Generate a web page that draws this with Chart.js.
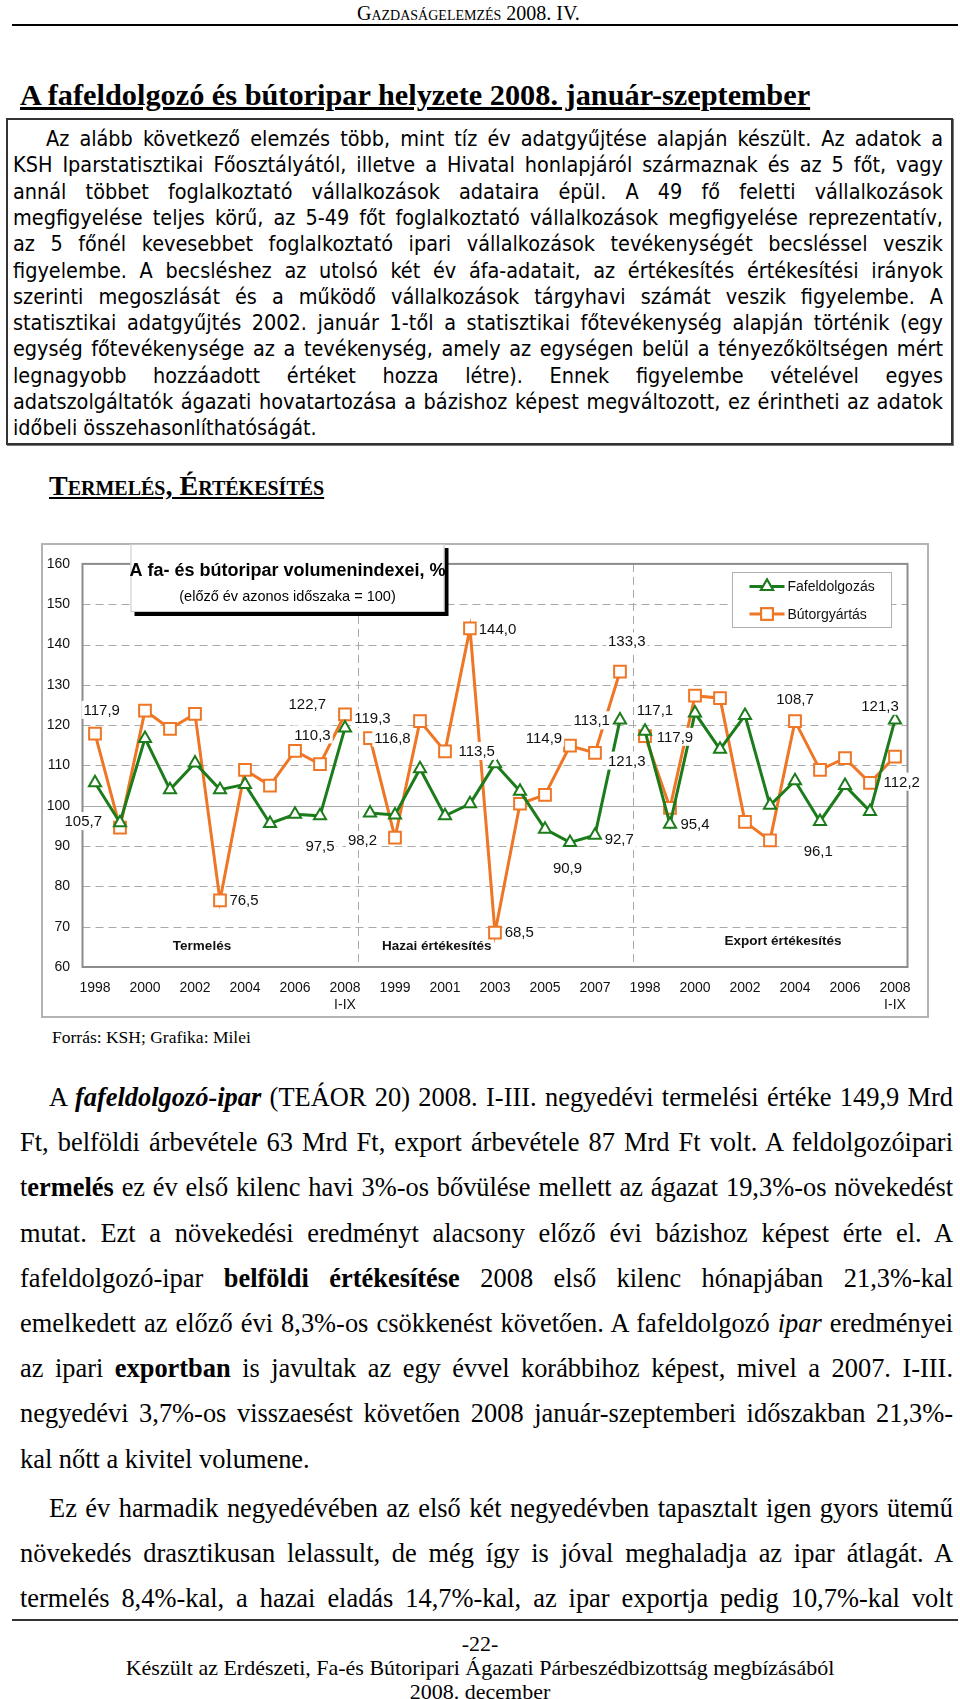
<!DOCTYPE html>
<html><head><meta charset="utf-8">
<script src="https://cdn.jsdelivr.net/npm/chart.js@4.4.0/dist/chart.umd.min.js"></script>
<style>
html,body{margin:0;padding:0;background:#fff;}
body{width:960px;height:1699px;position:relative;overflow:hidden;font-family:"Liberation Serif","Times New Roman",serif;color:#000;}
.a{position:absolute;white-space:nowrap;}
.hdr{left:357px;top:2px;font-size:20px;line-height:22px;font-variant:small-caps;}
.rule{position:absolute;left:12px;width:946px;height:2px;background:#000;}
.title{left:20px;top:78px;font-size:30.3px;line-height:34px;font-weight:bold;text-decoration:underline;}
.box{position:absolute;left:6px;top:118px;width:943px;height:323px;border:2px solid #333;box-shadow:1px 1px 0 #777;}
.bl{position:absolute;font-family:"DejaVu Sans Condensed","DejaVu Sans",sans-serif;font-stretch:condensed;font-size:17.5px;line-height:24px;white-space:nowrap;display:inline-block;}
.sec{left:49px;top:471px;font-size:28px;line-height:30px;font-weight:bold;font-variant:small-caps;text-decoration:underline;}
.src{left:52px;top:1026px;font-size:17.5px;line-height:22px;}
.tl{position:absolute;font-size:21px;line-height:28px;white-space:nowrap;display:inline-block;}
.foot{position:absolute;left:0;width:960px;text-align:center;font-size:22px;line-height:24px;}
#wrap{position:absolute;left:41px;top:543px;width:888px;height:475px;}
</style>
</head><body>
<div class="a hdr">Gazdaságelemzés 2008. IV.</div>
<div class="rule" style="top:24px"></div>
<div class="a title">A fafeldolgozó és bútoripar helyzete 2008. január-szeptember</div>
<div class="box"></div>
<div id="boxlines"></div>
<div class="a sec">Termelés, Értékesítés</div>
<div id="wrap"><canvas id="c" width="888" height="475"></canvas></div>
<div class="a src">Forrás: KSH; Grafika: Milei</div>
<div id="bodylines"></div>
<div class="rule" style="top:1619px;height:2px;background:#333"></div>
<div class="foot" style="top:1632px">-22-</div>
<div class="foot" style="top:1656px">Készült az Erdészeti, Fa-és Bútoripari Ágazati Párbeszédbizottság megbízásából</div>
<div class="foot" style="top:1680px">2008. december</div>
<script>
// ---------- chart data ----------
const categories = ['1998','1999','2000','2001','2002','2003','2004','2005','2006','2007','2008',
                    '1998','1999','2000','2001','2002','2003','2004','2005','2006','2007','2008',
                    '1998','1999','2000','2001','2002','2003','2004','2005','2006','2007','2008'];
const lastPeriodSuffix = 'I-IX';
const groupNames = ['Termelés','Hazai értékesítés','Export értékesítés'];
const groupSize = 11;
const seriesNames = ['Fafeldolgozás','Bútorgyártás'];
const fafeldolgozas = [105.7, 95.8, 116.7, 104.0, 110.6, 104.0, 105.3, 95.6, 97.9, 97.5, 119.3,
                       98.2, 97.7, 109.2, 97.5, 100.5, 110.4, 103.6, 94.2, 90.9, 92.7, 121.3,
                       118.5, 95.4, 123.0, 114.0, 122.4, 100.1, 106.2, 96.1, 105.0, 98.6, 121.3];
const butorgyartas = [117.9, 94.6, 123.6, 119.1, 122.8, 76.5, 108.9, 105.0, 113.6, 110.3, 122.7,
                      116.8, 92.1, 121.0, 113.5, 144.0, 68.5, 100.5, 102.7, 114.9, 113.1, 133.3,
                      117.3, 99.5, 127.3, 126.7, 96.0, 91.4, 121.0, 108.9, 111.8, 105.7, 112.2];
const yTicksMin = 60, yTicksMax = 160, yTickStep = 10;
// value annotations as printed on the chart, anchored in data units (category index, value)
const labelTexts = ['117,9','105,7','76,5','122,7','110,3','97,5','119,3','98,2',
                    '116,8','113,5','144,0','68,5','90,9','114,9','113,1','92,7','121,3','133,3',
                    '117,1','117,9','95,4','108,7','96,1','121,3','112,2'];
const labelAtIndex = [0.27,-0.47,5.96,8.49,8.7,9.0,11.1,10.7,
                      11.9,15.27,16.1,16.97,18.9,17.96,19.87,20.97,21.27,21.27,
                      22.4,23.2,24.0,28.0,28.93,31.4,32.27];
const labelAtValue = [123.8,96.2,76.6,125.4,117.7,90.1,121.8,91.5,
                      116.9,113.6,143.8,68.7,84.6,116.9,121.2,91.7,111.2,140.8,
                      123.8,117.1,95.4,126.5,88.8,124.8,106.0];
const groupLabelIndex = [4.28, 13.67, 27.52];
const groupLabelValue = [65.2, 65.1, 66.4];
const chartTitle = 'A fa- és bútoripar volumenindexei, %';
const chartSubtitle = '(előző év azonos időszaka = 100)';

// ---------- styles ----------
const GREEN = '#1c7c1c', ORANGE = '#ee7624', GRID = '#a9a9a9';
const SANS = '"Liberation Sans", Arial, sans-serif';

function isBreak(c){ return (c.p1DataIndex % groupSize) === 0; }

function xAt(chart, fi){
  const xs = chart.scales.x;
  const p0 = xs.getPixelForValue(0), p1 = xs.getPixelForValue(1);
  return p0 + fi*(p1-p0);
}

const decor = {
  id:'decor',
  beforeDraw(chart){
    const c = chart.ctx;
    c.save();
    c.fillStyle='#fff'; c.fillRect(0,0,chart.width,chart.height);
    c.strokeStyle='#b3b3b3'; c.lineWidth=2;
    c.strokeRect(1,1,chart.width-2,chart.height-2);
    c.restore();
  },
  beforeDatasetsDraw(chart){
    const c = chart.ctx, a = chart.chartArea, ys = chart.scales.y;
    c.save();
    c.lineWidth=1;
    for(let v=yTicksMin+yTickStep; v<yTicksMax; v+=yTickStep){
      const y = Math.round(ys.getPixelForValue(v))+0.5;
      c.strokeStyle = GRID;
      c.setLineDash(v===100?[]:[8,5]);
      c.beginPath(); c.moveTo(a.left,y); c.lineTo(a.right,y); c.stroke();
    }
    c.setLineDash([8,5]);
    for(let g=1; g<groupNames.length; g++){
      const x = Math.round(xAt(chart, g*groupSize-0.5))+0.5;
      c.beginPath(); c.moveTo(x,a.top); c.lineTo(x,a.bottom); c.stroke();
    }
    c.setLineDash([]);
    c.strokeStyle='#8c8c8c'; c.lineWidth=2;
    c.strokeRect(a.left, a.top, a.right-a.left, a.bottom-a.top);
    c.restore();
  },
  afterDatasetsDraw(chart){
    const c = chart.ctx, a = chart.chartArea, ys = chart.scales.y;
    c.save();
    c.font = '15px '+SANS; c.textAlign='center'; c.textBaseline='middle';
    labelTexts.forEach((t,i)=>{
      const x = xAt(chart,labelAtIndex[i]), y = ys.getPixelForValue(labelAtValue[i]);
      const w = c.measureText(t).width;
      c.fillStyle='#fff'; c.fillRect(x-w/2-2, y-9, w+4, 18);
      c.fillStyle='#111'; c.fillText(t,x,y+1);
    });
    c.font = 'bold 13.5px '+SANS;
    groupNames.forEach((t,i)=>{
      c.fillStyle='#111';
      c.fillText(t, xAt(chart,groupLabelIndex[i]), ys.getPixelForValue(groupLabelValue[i]));
    });
    const bx = a.left+48, by = 1, bw = 314, bh = 68;
    c.fillStyle='#000'; c.fillRect(bx+4,by+4,bw,bh);
    c.fillStyle='#fff'; c.fillRect(bx,by,bw,bh);
    c.strokeStyle='#c8c8c8'; c.lineWidth=1; c.strokeRect(bx+0.5,by+0.5,bw-1,bh-1);
    c.fillStyle='#000';
    c.font='bold 18px '+SANS; c.fillText(chartTitle, bx+bw/2, by+27);
    c.font='14.5px '+SANS; c.fillText(chartSubtitle, bx+bw/2, by+53);
    const lx = 691.5, ly = 29.5, lw = 159, lh = 55;
    c.fillStyle='#fff'; c.fillRect(lx,ly,lw,lh);
    c.strokeStyle='#b0b0b0'; c.strokeRect(lx,ly,lw,lh);
    chart.data.datasets.forEach((ds,i)=>{
      const yy = ly + 14 + i*27.5;
      c.strokeStyle = ds.borderColor; c.lineWidth=3;
      c.beginPath(); c.moveTo(lx+17,yy); c.lineTo(lx+52,yy); c.stroke();
      c.lineWidth=2; c.fillStyle='#fff';
      Chart.helpers.drawPoint(c,{pointStyle:ds.pointStyle, radius:ds.pointRadius, rotation:0, borderWidth:2}, lx+34.5, yy);
      c.fill(); c.stroke();
      c.fillStyle='#111'; c.font='14px '+SANS; c.textAlign='left';
      c.fillText(ds.label, lx+55, yy+1);
    });
    c.restore();
  }
};

new Chart(document.getElementById('c'), {
  type:'line',
  data:{labels:categories, datasets:[
    {label:seriesNames[0], data:fafeldolgozas, borderColor:GREEN, borderWidth:3, tension:0,
     pointStyle:'triangle', pointRadius:7, pointBorderWidth:2, pointBackgroundColor:'#fff', pointBorderColor:GREEN,
     segment:{borderColor:c=>isBreak(c)?'rgba(0,0,0,0)':undefined}},
    {label:seriesNames[1], data:butorgyartas, borderColor:ORANGE, borderWidth:3, tension:0,
     pointStyle:'rect', pointRadius:8.3, pointBorderWidth:2, pointBackgroundColor:'#fff', pointBorderColor:ORANGE,
     segment:{borderColor:c=>isBreak(c)?'rgba(0,0,0,0)':undefined}}
  ]},
  options:{
    responsive:false, animation:false, devicePixelRatio:1,
    layout:{padding:{left:0,right:21.5,top:16,bottom:0}},
    plugins:{legend:{display:false}, tooltip:{enabled:false}},
    scales:{
      x:{offset:true, grid:{display:false, drawTicks:false}, border:{display:false},
         ticks:{autoSkip:false, maxRotation:0, minRotation:0, padding:12.5, color:'#111',
                font:{family:SANS,size:14},
                callback:function(v,i){
                  if(i%2) return '';
                  const lab = categories[i];
                  return (i%groupSize===groupSize-1) ? [lab,lastPeriodSuffix] : lab;
                }},
         afterFit:s=>{s.height=51;}},
      y:{min:yTicksMin, max:yTicksMax, grid:{display:false, drawTicks:false}, border:{display:false},
         ticks:{stepSize:yTickStep, padding:12.5, color:'#111', font:{family:SANS,size:14}},
         afterFit:s=>{s.width=41.5;}}
    }
  },
  plugins:[decor]
});

// ---------- page text (justified line by line) ----------
const boxLines = [
 'Az alább következő elemzés több, mint tíz év adatgyűjtése alapján készült. Az adatok a',
 'KSH Iparstatisztikai Főosztályától, illetve a Hivatal honlapjáról származnak és az 5 főt, vagy',
 'annál többet foglalkoztató vállalkozások adataira épül. A 49 fő feletti vállalkozások',
 'megfigyelése teljes körű, az 5-49 főt foglalkoztató vállalkozások megfigyelése reprezentatív,',
 'az 5 főnél kevesebbet foglalkoztató ipari vállalkozások tevékenységét becsléssel veszik',
 'figyelembe. A becsléshez az utolsó két év áfa-adatait, az értékesítés értékesítési irányok',
 'szerinti megoszlását és a működő vállalkozások tárgyhavi számát veszik figyelembe. A',
 'statisztikai adatgyűjtés 2002. január 1-től a statisztikai főtevékenység alapján történik (egy',
 'egység főtevékenysége az a tevékenység, amely az egységen belül a tényezőköltségen mért',
 'legnagyobb hozzáadott értéket hozza létre). Ennek figyelembe vételével egyes',
 'adatszolgáltatók ágazati hovatartozása a bázishoz képest megváltozott, ez érintheti az adatok',
 'időbeli összehasonlíthatóságát.'
];
const bodyLines = [
 'A <b><i>fafeldolgozó-ipar</i></b> (TEÁOR 20) 2008. I-III. negyedévi termelési értéke 149,9 Mrd',
 'Ft, belföldi árbevétele 63 Mrd Ft, export árbevétele 87 Mrd Ft volt. A feldolgozóipari',
 't<b>ermelés</b> ez év első kilenc havi 3%-os bővülése mellett az ágazat 19,3%-os növekedést',
 'mutat. Ezt a növekedési eredményt alacsony előző évi bázishoz képest érte el. A',
 'fafeldolgozó-ipar <b>belföldi értékesítése</b> 2008 első kilenc hónapjában 21,3%-kal',
 'emelkedett az előző évi 8,3%-os csökkenést követően. A fafeldolgozó <i>ipar</i> eredményei',
 'az ipari <b>exportban</b> is javultak az egy évvel korábbihoz képest, mivel a 2007. I-III.',
 'negyedévi 3,7%-os visszaesést követően 2008 január-szeptemberi időszakban 21,3%-',
 'kal nőtt a kivitel volumene.',
 'Ez év harmadik negyedévében az első két negyedévben tapasztalt igen gyors ütemű',
 'növekedés drasztikusan lelassult, de még így is jóval meghaladja az ipar átlagát. A',
 'termelés 8,4%-kal, a hazai eladás 14,7%-kal, az ipar exportja pedig 10,7%-kal volt'
];
function placeLines(container, lines, cls, opts){
  const host = document.getElementById(container);
  const els = lines.map((html,i)=>{
    const d = document.createElement('div');
    d.className = cls; d.innerHTML = html;
    d.style.left = (opts.indent.includes(i) ? opts.indentLeft : opts.left)+'px';
    host.appendChild(d);
    return d;
  });
  const base = parseFloat(getComputedStyle(els[0]).fontSize);
  let scale = Infinity;
  els.forEach((d,i)=>{
    if(opts.last.includes(i)) return;
    const left = parseFloat(d.style.left);
    scale = Math.min(scale, (opts.right-left)/d.getBoundingClientRect().width);
  });
  const fs = base*scale*opts.fill;
  els.forEach((d,i)=>{
    d.style.fontSize = fs+'px';
    d.style.top = (opts.center(i) - opts.lh/2)+'px';
    if(!opts.last.includes(i)){
      const left = parseFloat(d.style.left);
      const w = d.getBoundingClientRect().width;
      const n = (d.textContent.match(/ /g)||[]).length;
      if(n) d.style.wordSpacing = ((opts.right-left-w)/n)+'px';
    }
  });
}
placeLines('boxlines', boxLines, 'bl', {left:13, indentLeft:46, right:943, indent:[0], last:[11], lh:24, fill:0.985,
  center:i=>139+i*26.3});
placeLines('bodylines', bodyLines, 'tl', {left:20, indentLeft:49, right:953, indent:[0,9], last:[8], lh:28, fill:0.985,
  center:i=> i<9 ? 1097+i*45.2 : 1508+(i-9)*45.2});
</script>
</body></html>
